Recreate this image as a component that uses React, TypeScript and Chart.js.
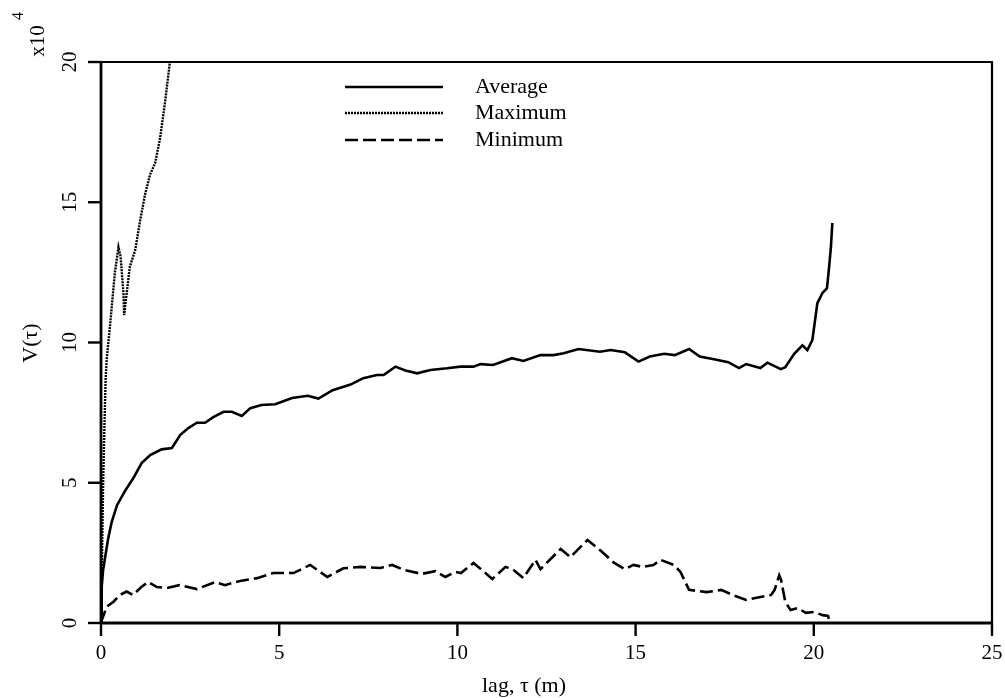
import React, { useEffect, useRef } from 'react';
import { Chart, registerables } from 'chart.js';
Chart.register(...registerables);

const avgLag = [0, 0.02, 0.06, 0.11, 0.2, 0.3, 0.45, 0.67, 0.9, 1.14, 1.38, 1.7, 1.99, 2.22, 2.45, 2.69, 2.92, 3.15, 3.44, 3.67, 3.95, 4.19, 4.5, 4.89, 5.36, 5.8, 6.1, 6.5, 7.0, 7.36, 7.74, 7.93, 8.26, 8.54, 8.87, 9.24, 9.71, 10.08, 10.45, 10.65, 11.0, 11.53, 11.85, 12.33, 12.7, 12.98, 13.4, 14.0, 14.3, 14.7, 15.08, 15.4, 15.8, 16.1, 16.5, 16.8, 17.2, 17.6, 17.9, 18.1, 18.5, 18.7, 19.07, 19.2, 19.45, 19.68, 19.82, 19.96, 20.1, 20.24, 20.37, 20.43, 20.48, 20.52];
const avgV = [0, 1.3, 1.9, 2.3, 3.0, 3.6, 4.2, 4.7, 5.15, 5.7, 5.99, 6.19, 6.24, 6.7, 6.95, 7.14, 7.14, 7.34, 7.53, 7.53, 7.38, 7.66, 7.77, 7.8, 8.02, 8.1, 8.0, 8.3, 8.5, 8.73, 8.84, 8.84, 9.14, 9.0, 8.9, 9.02, 9.08, 9.14, 9.14, 9.23, 9.2, 9.44, 9.34, 9.55, 9.55, 9.62, 9.77, 9.67, 9.73, 9.65, 9.32, 9.5, 9.6, 9.55, 9.77, 9.5, 9.4, 9.3, 9.09, 9.23, 9.09, 9.28, 9.05, 9.12, 9.6, 9.9, 9.73, 10.09, 11.4, 11.76, 11.94, 12.7, 13.4, 14.26];

const maxLag = [0, 0.03, 0.06, 0.1, 0.13, 0.16, 0.25, 0.39, 0.49, 0.55, 0.63, 0.65, 0.72, 0.81, 0.96, 1.1, 1.24, 1.38, 1.52, 1.66, 1.8, 1.94, 2.0];
const maxV = [0, 2.5, 5, 7.2, 8.7, 9.4, 10.56, 12.5, 13.4, 13.06, 11.75, 10.98, 11.75, 12.7, 13.3, 14.37, 15.3, 16.0, 16.4, 17.3, 18.6, 20.07, 20.8];

const minLag = [0, 0.02, 0.16, 0.35, 0.53, 0.72, 0.9, 1.14, 1.32, 1.57, 1.85, 2.2, 2.69, 3.2, 3.48, 3.9, 4.38, 4.83, 5.4, 5.87, 6.35, 6.8, 7.3, 7.84, 8.17, 8.5, 9.0, 9.38, 9.66, 9.94, 10.1, 10.45, 10.98, 11.35, 11.55, 11.85, 12.19, 12.33, 12.9, 13.17, 13.65, 14.0, 14.4, 14.7, 14.94, 15.2, 15.5, 15.7, 16.07, 16.26, 16.5, 17.0, 17.4, 17.8, 18.1, 18.5, 18.8, 18.9, 19.03, 19.08, 19.2, 19.35, 19.55, 19.78, 20.0, 20.25, 20.4, 20.45];
const minV = [0, 0.1, 0.58, 0.76, 1.0, 1.12, 1.0, 1.29, 1.46, 1.28, 1.25, 1.35, 1.21, 1.46, 1.35, 1.5, 1.6, 1.78, 1.78, 2.07, 1.64, 1.95, 2.0, 1.96, 2.07, 1.89, 1.75, 1.85, 1.64, 1.82, 1.78, 2.14, 1.57, 2.0, 1.92, 1.6, 2.25, 1.92, 2.64, 2.35, 2.96, 2.6, 2.14, 1.92, 2.07, 2.0, 2.07, 2.25, 2.07, 1.82, 1.18, 1.1, 1.18, 0.96, 0.82, 0.93, 1.0, 1.18, 1.7, 1.55, 0.75, 0.46, 0.53, 0.36, 0.39, 0.28, 0.25, 0.0];

const xTicks = [0, 5, 10, 15, 20, 25];
const yTicks = [0, 5, 10, 15, 20];
const seriesNames = ['Average', 'Maximum', 'Minimum'];
const xTitle = 'lag, τ (m)';
const yTitle = 'V(τ)';

const FONT = '"Liberation Serif", "Times New Roman", serif';
const lineStyles = [
  { dash: [] as number[], width: 2.6 },
  { dash: [2, 1], width: 2.4 },
  { dash: [13, 5], width: 2.6 },
];

export default function App() {
  const ref = useRef<HTMLCanvasElement>(null);
  useEffect(() => {
    document.body.style.margin = '0';
    const canvas = ref.current!;
    const toPts = (xs: number[], ys: number[]) => xs.map((x, i) => ({ x, y: ys[i] }));
    const series = [toPts(avgLag, avgV), toPts(maxLag, maxV), toPts(minLag, minV)];

    const framePlugin = {
      id: 'frame',
      afterDraw(chart: any) {
        const c = chart.ctx as CanvasRenderingContext2D;
        const a = chart.chartArea;
        const xs = chart.scales.x;
        const ys = chart.scales.y;
        c.save();
        c.strokeStyle = '#000';
        c.fillStyle = '#000';
        c.setLineDash([]);
        // frame
        c.lineWidth = 2.2;
        c.beginPath();
        c.moveTo(a.left, a.top);
        c.lineTo(a.right, a.top);
        c.lineTo(a.right, a.bottom);
        c.stroke();
        c.lineWidth = 2.8;
        c.beginPath();
        c.moveTo(a.left, a.top - 1);
        c.lineTo(a.left, a.bottom);
        c.lineTo(a.right + 1, a.bottom);
        c.stroke();
        // ticks
        c.lineWidth = 2.4;
        xTicks.forEach((t) => {
          const px = xs.getPixelForValue(t);
          c.beginPath();
          c.moveTo(px, a.bottom);
          c.lineTo(px, a.bottom + 13);
          c.stroke();
        });
        yTicks.forEach((t) => {
          const py = ys.getPixelForValue(t);
          c.beginPath();
          c.moveTo(a.left, py);
          c.lineTo(a.left - 13, py);
          c.stroke();
        });
        // tick labels
        c.font = `21px ${FONT}`;
        c.textAlign = 'center';
        c.textBaseline = 'middle';
        xTicks.forEach((t) => {
          c.fillText(String(t), xs.getPixelForValue(t), a.bottom + 30);
        });
        yTicks.forEach((t) => {
          c.save();
          c.translate(a.left - 31, ys.getPixelForValue(t));
          c.rotate(-Math.PI / 2);
          c.fillText(String(t), 0, 0);
          c.restore();
        });
        // exponent
        c.save();
        c.translate(38, 41);
        c.rotate(-Math.PI / 2);
        c.font = `21px ${FONT}`;
        c.fillText('x10', 0, 0);
        c.restore();
        c.save();
        c.translate(19, 16);
        c.rotate(-Math.PI / 2);
        c.font = `16px ${FONT}`;
        c.fillText('4', 0, 0);
        c.restore();
        // axis titles
        c.font = `22px ${FONT}`;
        c.fillText(xTitle, 524, 686);
        c.save();
        c.translate(31, 343);
        c.rotate(-Math.PI / 2);
        c.fillText(yTitle, 0, 0);
        c.restore();
        // legend
        const rows = [87, 113, 140];
        seriesNames.forEach((name, i) => {
          c.lineWidth = lineStyles[i].width;
          c.setLineDash(lineStyles[i].dash);
          c.beginPath();
          c.moveTo(345, rows[i]);
          c.lineTo(443, rows[i]);
          c.stroke();
          c.setLineDash([]);
          c.textAlign = 'left';
          c.font = `22px ${FONT}`;
          c.fillText(name, 475, rows[i]);
        });
        c.restore();
      },
    };

    const chart = new Chart(canvas, {
      type: 'line',
      data: {
        datasets: series.map((d, i) => ({
          label: seriesNames[i],
          data: d,
          borderColor: '#000',
          borderWidth: lineStyles[i].width,
          borderDash: lineStyles[i].dash,
          pointRadius: 0,
          tension: 0,
          fill: false,
        })),
      },
      options: {
        animation: false,
        responsive: false,
        layout: { padding: { left: 101, right: 13, top: 62, bottom: 75 } },
        plugins: { legend: { display: false }, tooltip: { enabled: false } },
        scales: {
          x: { type: 'linear', min: 0, max: 25, display: false },
          y: { type: 'linear', min: 0, max: 20, display: false },
        },
      },
      plugins: [framePlugin],
    });
    return () => chart.destroy();
  }, []);
  return <canvas ref={ref} width={1005} height={698} style={{ display: 'block' }} />;
}
